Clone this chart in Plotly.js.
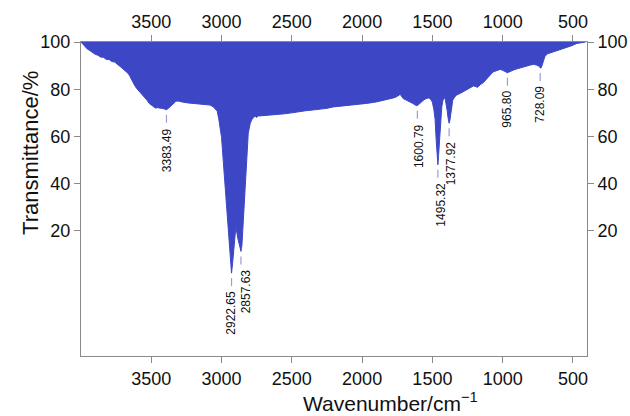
<!DOCTYPE html>
<html>
<head>
<meta charset="utf-8">
<script src="https://cdn.plot.ly/plotly-3.0.1.min.js"></script>
<style>html,body{margin:0;padding:0;background:#fff}#chart{width:630px;height:416px}</style>
</head>
<body>
<div id="chart"></div>
<script>
// Wavenumber (cm^-1) and transmittance (%)
const wavenumber = [4000,3985,3970,3955,3938,3920,3900,3880,3860,3840,3820,3800,3780,3760,3745,3730,3715,3700,3690,3680,3665,3655,3645,3635,3620,3605,3594,3580,3565,3555,3546,3530,3515,3500,3487,3470,3455,3439,3420,3405,3392,3378,3365,3356,3340,3325,3309,3290,3273,3240,3200,3155,3120,3083,3060,3045,3031,3020,3012,3000,2989,2976,2969,2960,2953,2940,2935,2929,2922,2912,2898,2885,2870,2862,2855,2850,2839,2827,2810,2796,2786,2770,2760,2751,2740,2727,2700,2650,2608,2550,2500,2442,2400,2350,2300,2250,2205,2150,2100,2050,2000,1967,1900,1850,1800,1778,1755,1740,1730,1722,1715,1707,1690,1670,1659,1640,1625,1611,1600,1590,1575,1560,1545,1528,1515,1500,1490,1481,1473,1467,1461,1456,1450,1442,1433,1425,1416,1408,1402,1395,1390,1381,1375,1369,1362,1355,1340,1326,1300,1279,1255,1231,1220,1208,1195,1180,1172,1160,1137,1120,1100,1080,1065,1040,1018,1000,985,966,950,935,923,900,875,852,820,800,780,760,745,735,728,720,709,700,685,650,614,580,543,510,472,440,410];
const transmittance = [100,98.9,98.2,97.0,96.4,95.6,94.8,94.4,93.6,93.5,92.6,92.6,91.7,91.5,90.9,90.0,89.3,88.6,88.2,87.6,86.7,85.8,84.5,83.3,81.8,80.4,79.7,78.6,77.6,76.8,76.2,75.3,74.0,73.2,72.6,72.0,72.2,71.9,71.8,71.6,71.3,71.9,72.6,73.3,74.2,74.9,75.0,74.6,74.5,74.2,74.0,73.8,73.6,73.3,72.6,71.8,70.8,67.5,64.5,59.5,50.5,40.5,33.1,26,19.2,10,6,2.1,6,12,21.8,17,13,11.3,14,19.2,33.1,47.2,61.4,65.5,67,68.2,68.6,68.0,68.7,68.7,68.8,69.0,69.2,69.6,70.0,70.6,70.9,71.2,71.5,71.9,72.5,72.8,73.1,73.5,73.8,74.0,74.6,75.2,75.9,76.3,76.8,77.3,77.8,77.2,76.5,76.0,75.5,75.0,74.6,74.0,73.4,73.0,73.4,74.0,74.8,75.5,76.0,76.3,76.0,74.5,71.5,67.5,58.5,52,48,52,58.5,67,72.6,75.2,76.5,75.6,73.8,71,68.4,65.6,67,69.8,73,75.4,76.8,77.6,78.3,79.0,79.8,80.4,80.9,81.4,81.2,80.8,81.1,81.9,82.8,84.0,85.3,86.6,87.4,88.0,88.4,88.0,87.4,87.0,87.4,87.9,88.1,88.6,89.1,89.5,89.9,90.3,90.5,90.3,89.8,89.0,88.9,90.0,92.4,93.8,94.9,95.6,96.3,96.9,97.7,98.4,99.4,99.8,100];
const fullTransmittance = wavenumber.map(() => 100);

// Peak markers (position on the picture) and their printed labels
const peakWavenumber = [3392, 2929, 2862, 1607, 1461, 1381, 966, 733];
const peakLabels = ["3383.49", "2922.65", "2857.63", "1600.79", "1495.32", "1377.92", "965.80", "728.09"];

const xTicks = [3500, 3000, 2500, 2000, 1500, 1000, 500];
const yTicks = [20, 40, 60, 80, 100];

const blue = "#3d47c6";
const axisGray = "#8a8a8a";
const fontFam = "Liberation Sans, Arial, Helvetica, sans-serif";
const labelNudge = [0, 0, 5, 1, 3, 2, 0, 0];

function valueAt(w) {
  let best = 0;
  for (let i = 1; i < wavenumber.length; i++) {
    if (Math.abs(wavenumber[i] - w) < Math.abs(wavenumber[best] - w)) best = i;
  }
  return transmittance[best];
}

const traces = [
  {x: wavenumber, y: fullTransmittance, mode: "lines", line: {width: 0, color: blue}, hoverinfo: "skip", showlegend: false},
  {x: wavenumber, y: transmittance, mode: "lines", fill: "tonexty", fillcolor: blue, line: {width: 1, color: blue}, showlegend: false},
  {x: wavenumber, y: transmittance, xaxis: "x2", yaxis: "y2", mode: "lines", line: {width: 0}, opacity: 0, hoverinfo: "skip", showlegend: false}
];

const shapes = [];
const annotations = [];
peakWavenumber.forEach((w, i) => {
  const t = valueAt(w);
  shapes.push({type: "line", xref: "x", yref: "y", x0: w, x1: w, ysizemode: "pixel", yanchor: t, y0: -5, y1: -13,
    line: {color: "rgb(150,158,212)", width: 1.2}});
  annotations.push({x: w, y: t, xref: "x", yref: "y", text: peakLabels[i], textangle: -90, showarrow: false,
    xanchor: "center", yanchor: "top", yshift: -16, xshift: labelNudge[i], font: {family: fontFam, size: 12, color: "#111"}});
});

annotations.push({xref: "paper", yref: "paper", x: 0.611, y: -0.145, text: "Wavenumber/cm<sup>\u22121</sup>",
  showarrow: false, xanchor: "center", yanchor: "middle", font: {family: fontFam, size: 21, color: "#111"}});
annotations.push({xref: "paper", yref: "paper", x: -0.1, y: 0.648, text: "Transmittance/%", textangle: -90,
  showarrow: false, xanchor: "center", yanchor: "middle", font: {family: fontFam, size: 22, color: "#111"}});

const axisCommon = {
  showgrid: false, zeroline: false, showline: true, linecolor: axisGray, linewidth: 1,
  ticks: "outside", ticklen: 6, tickcolor: axisGray, tickwidth: 1,
  tickfont: {family: fontFam, size: 18, color: "#111"}
};

const layout = {
  width: 630, height: 416,
  margin: {l: 81, r: 43, t: 42, b: 60},
  paper_bgcolor: "#fff", plot_bgcolor: "#fff",
  showlegend: false,
  xaxis: Object.assign({}, axisCommon, {range: [4000, 400], tickvals: xTicks, ticktext: xTicks.map(String)}),
  xaxis2: Object.assign({}, axisCommon, {range: [4000, 400], tickvals: xTicks, ticktext: xTicks.map(String), overlaying: "x", side: "top", anchor: "y"}),
  yaxis: Object.assign({}, axisCommon, {range: [-33, 100], tickvals: yTicks, ticktext: yTicks.map(String)}),
  yaxis2: Object.assign({}, axisCommon, {range: [-33, 100], tickvals: yTicks, ticktext: yTicks.map(String), overlaying: "y", side: "right", anchor: "x"}),
  shapes: shapes,
  annotations: annotations
};

Plotly.newPlot("chart", traces, layout, {displayModeBar: false, staticPlot: true});
</script>
</body>
</html>
